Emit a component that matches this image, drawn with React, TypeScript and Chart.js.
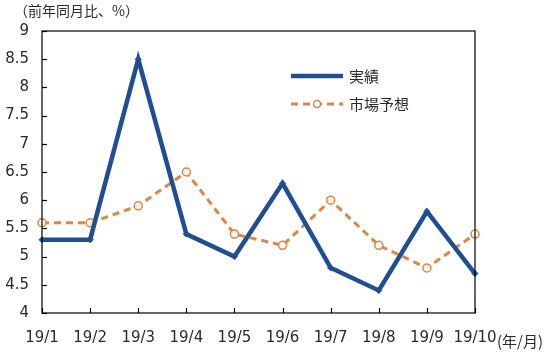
import React, { useEffect, useRef } from "react";
import { Chart, registerables } from "chart.js";

Chart.register(...registerables);

const categories = ["19/1", "19/2", "19/3", "19/4", "19/5", "19/6", "19/7", "19/8", "19/9", "19/10"];
const actual = [5.3, 5.3, 8.5, 5.4, 5.0, 6.3, 4.8, 4.4, 5.8, 4.7];
const forecast = [5.6, 5.6, 5.9, 6.5, 5.4, 5.2, 6.0, 5.2, 4.8, 5.4];
const seriesNames = ["実績", "市場予想"];
const yTitle = "（前年同月比、%）";
const xTitle = "(年/月)";

const BLUE = "#1F4E98";
const ORANGE = "#E3843F";
const TEXT = "#2a2a2a";
const FONT = "'DejaVu Sans', 'Noto Sans CJK JP', sans-serif";
const CJK = "'Noto Sans CJK JP', sans-serif";

const decor = {
  id: "decor",
  afterDraw(chart: any) {
    const { ctx, chartArea: a, scales } = chart;
    ctx.save();
    ctx.strokeStyle = "#000";
    ctx.lineWidth = 1.2;
    ctx.strokeRect(a.left, a.top, a.right - a.left, a.bottom - a.top);
    const ys = scales.y;
    ys.ticks.forEach((_t: any, i: number) => {
      const py = Math.round(ys.getPixelForTick(i)) + 0.5;
      ctx.beginPath();
      ctx.moveTo(a.left, py);
      ctx.lineTo(a.left + 5, py);
      ctx.stroke();
    });
    const xs = scales.x;
    xs.ticks.forEach((_t: any, i: number) => {
      const px = Math.round(xs.getPixelForTick(i)) + 0.5;
      ctx.beginPath();
      ctx.moveTo(px, a.bottom);
      ctx.lineTo(px, a.bottom - 5);
      ctx.stroke();
    });
    ctx.fillStyle = TEXT;
    ctx.textBaseline = "middle";
    ctx.textAlign = "left";
    ctx.font = `14px ${CJK}`;
    ctx.fillText(yTitle, 14, 11);
    ctx.font = `15px ${CJK}`;
    ctx.fillText(xTitle, 497, 341);
    const lx0 = 291, lx1 = 343;
    const ly1 = 76, ly2 = 104;
    ctx.strokeStyle = BLUE;
    ctx.lineWidth = 4.5;
    ctx.setLineDash([]);
    ctx.beginPath();
    ctx.moveTo(lx0, ly1);
    ctx.lineTo(lx1, ly1);
    ctx.stroke();
    ctx.strokeStyle = ORANGE;
    ctx.lineWidth = 3;
    ctx.setLineDash([7, 5]);
    ctx.beginPath();
    ctx.moveTo(lx0, ly2);
    ctx.lineTo(lx1, ly2);
    ctx.stroke();
    ctx.setLineDash([]);
    ctx.fillStyle = "#fff";
    ctx.lineWidth = 1.5;
    ctx.beginPath();
    ctx.arc((lx0 + lx1) / 2, ly2, 3.5, 0, Math.PI * 2);
    ctx.fill();
    ctx.stroke();
    ctx.fillStyle = TEXT;
    ctx.font = `15px ${CJK}`;
    ctx.fillText(seriesNames[0], 349, ly1);
    ctx.fillText(seriesNames[1], 349, ly2);
    ctx.restore();
  },
};

export default function App() {
  const ref = useRef<HTMLCanvasElement>(null);
  useEffect(() => {
    if (!ref.current) return;
    const chart = new Chart(ref.current, {
      type: "line",
      data: {
        labels: categories,
        datasets: [
          {
            label: seriesNames[0],
            data: actual,
            borderColor: BLUE,
            backgroundColor: BLUE,
            borderWidth: 4.5,
            pointStyle: "rectRot",
            pointRadius: 3,
            pointBorderWidth: 1,
            tension: 0,
          },
          {
            label: seriesNames[1],
            data: forecast,
            borderColor: ORANGE,
            backgroundColor: "#fff",
            borderWidth: 3,
            borderDash: [7, 5],
            pointStyle: "circle",
            pointRadius: 4,
            pointBorderWidth: 1.5,
            pointBorderColor: ORANGE,
            pointBackgroundColor: "rgba(255,255,255,0.85)",
            tension: 0,
          },
        ],
      },
      options: {
        responsive: false,
        animation: false,
        layout: { padding: { left: 0, right: 78, top: 31, bottom: 0 } },
        plugins: { legend: { display: false }, tooltip: { enabled: false } },
        scales: {
          x: {
            offset: false,
            grid: { display: false, drawTicks: false },
            border: { display: false },
            ticks: { color: TEXT, font: { size: 15, family: FONT }, padding: 16, maxRotation: 0, autoSkip: false },
            afterFit: (s: any) => { s.height = 42; },
          },
          y: {
            min: 4,
            max: 9,
            grid: { display: false, drawTicks: false },
            border: { display: false },
            ticks: {
              stepSize: 0.5,
              color: TEXT,
              font: { size: 15, family: FONT },
              padding: 13,
              callback: (v: any) => String(v),
            },
            afterFit: (s: any) => { s.width = 42; },
          },
        },
      },
      plugins: [decor],
    });
    return () => chart.destroy();
  }, []);
  return (
    <div style={{ position: "absolute", left: 0, top: 0, width: 553, height: 355, background: "#fff" }}>
      <canvas ref={ref} width={553} height={355} />
    </div>
  );
}
